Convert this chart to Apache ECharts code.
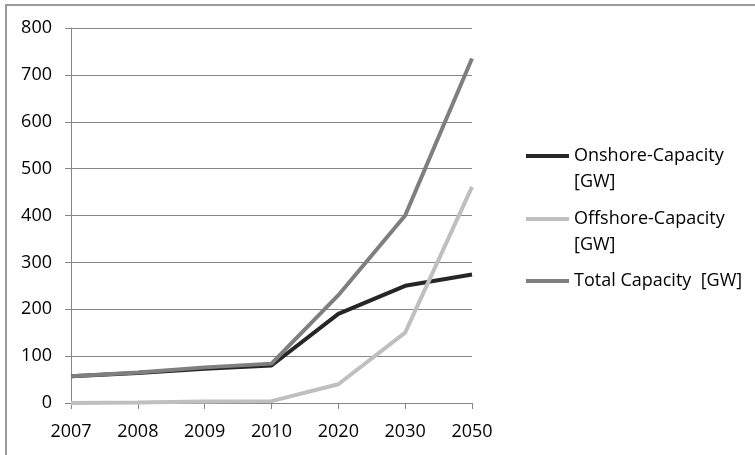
<!DOCTYPE html>
<html>
<head>
<meta charset="utf-8">
<script src="https://cdn.jsdelivr.net/npm/echarts@6/dist/echarts.min.js"></script>
<style>
  html, body { margin: 0; padding: 0; background: #fff; }
  #main { width: 755px; height: 455px; }
</style>
</head>
<body>
<div id="main"></div>
<script>
// years on the x axis
var years = ['2007', '2008', '2009', '2010', '2020', '2030', '2050'];
// capacity in GW
var onshore = [57, 64, 73, 80, 190, 250, 274];
var offshore = [0, 1, 3, 4, 40, 150, 461];
var total = [57, 65, 76, 84, 230, 400, 735];

var names = ['Onshore-Capacity [GW]', 'Offshore-Capacity [GW]', 'Total Capacity  [GW]'];
var colors = ['#262626', '#bfbfbf', '#7f7f7f'];
var font = 'Open Sans';

var myChart = echarts.init(document.getElementById('main'));

function mkLegend(name, top, twoLines) {
  return {
    orient: 'vertical',
    left: 521,
    top: top,
    itemWidth: 43,
    itemHeight: 4,
    icon: 'rect',
    data: [name],
    formatter: function (n) {
      // wrap long names; blank first line keeps the icon next to line one
      return twoLines ? ' \n' + n.replace(' [GW]', '\n[GW]') : n;
    },
    textStyle: {
      fontFamily: font,
      fontSize: 18,
      color: '#000',
      lineHeight: 26
    }
  };
}

myChart.setOption({
  animation: false,
  color: colors,
  graphic: [{
    type: 'rect',
    shape: { x: 6, y: 5, width: 900, height: 600 },
    style: { fill: 'none', stroke: '#9a9a9a', lineWidth: 2 }
  }],
  legend: [
    mkLegend(names[0], 112, true),
    mkLegend(names[1], 175, true),
    mkLegend(names[2], 263, false)
  ],
  grid: { left: 71, right: 283, top: 28, bottom: 52 },
  xAxis: {
    type: 'category',
    data: years,
    boundaryGap: false,
    axisLine: { lineStyle: { color: '#868686', width: 1 } },
    axisTick: { show: true, length: 6, alignWithLabel: true, lineStyle: { color: '#868686' } },
    axisLabel: { color: '#000', fontFamily: font, fontSize: 18, margin: 20 },
    splitLine: { show: false }
  },
  yAxis: {
    type: 'value',
    min: 0,
    max: 800,
    interval: 100,
    axisLine: { show: true, lineStyle: { color: '#868686', width: 1 } },
    axisTick: { show: true, length: 6, lineStyle: { color: '#868686' } },
    axisLabel: { color: '#000', fontFamily: font, fontSize: 18, margin: 19 },
    splitLine: { lineStyle: { color: '#868686', width: 1 } }
  },
  series: [
    { name: names[0], type: 'line', data: onshore, symbol: 'none', lineStyle: { width: 4, color: colors[0] } },
    { name: names[1], type: 'line', data: offshore, symbol: 'none', lineStyle: { width: 4, color: colors[1] } },
    { name: names[2], type: 'line', data: total, symbol: 'none', lineStyle: { width: 4, color: colors[2] } }
  ]
});
</script>
</body>
</html>
